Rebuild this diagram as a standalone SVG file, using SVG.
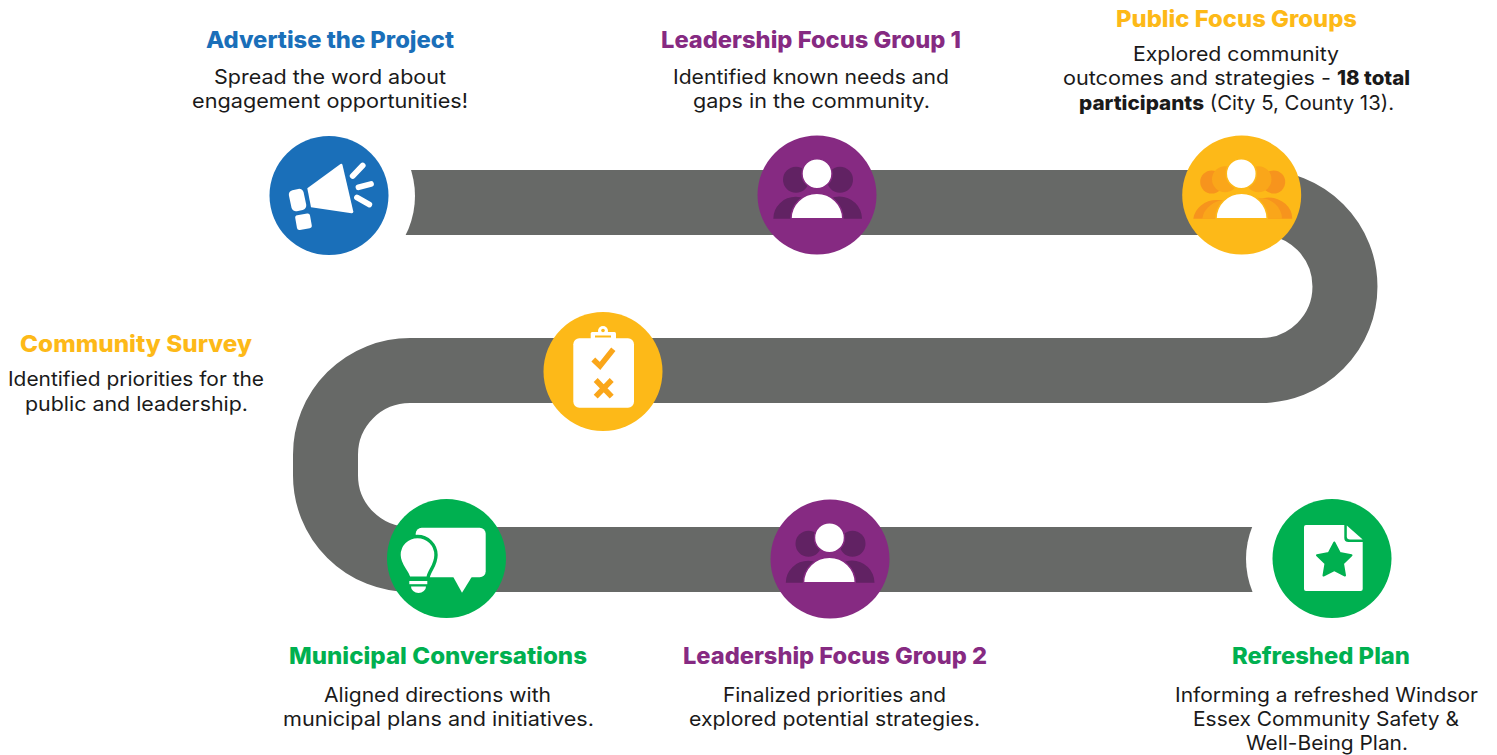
<svg xmlns="http://www.w3.org/2000/svg" xmlns:xlink="http://www.w3.org/1999/xlink" width="1497" height="755" viewBox="0 0 1497 755">
<style>
text{font-family:"Inter","Liberation Sans",sans-serif;fill:#1a1a1a}
.h{font-size:23px;font-weight:800}
.b{font-size:20px;font-weight:400}
.bb{font-weight:800}
.blue{fill:#1a6fb9}.pur{fill:#862a82}.yel{fill:#fdb918}.grn{fill:#00b050}
.w{fill:#fff}
.road{fill:none;stroke:#676967;stroke-width:65}
</style>
<defs>
<g id="people">
<circle cx="796" cy="179.7" r="13" fill="#612263"/><circle cx="840" cy="179.7" r="13" fill="#612263"/>
<path d="M773.3 218.7A22.5 22 0 0 1 818.3 218.7ZM816.7 218.7A22.5 22 0 0 1 862 218.7Z" fill="#612263"/>
<circle cx="817" cy="173.7" r="15" class="w" stroke="#862a82" stroke-width="1.5"/>
<path d="M791 218.7A25.9 25.4 0 0 1 842.8 218.7Z" class="w" stroke="#862a82" stroke-width="1.5"/>
</g>
</defs>
<g id="connectors">
<path class="road" d="M400 202.5H1261A84 84 0 0 1 1261 370.5H410A84.5 84 0 0 0 325.5 454.5V475.5A84.5 84 0 0 0 410 559.5H1262"/>
</g>
<circle cx="329" cy="196" r="86" fill="#fff"/>
<circle cx="1332" cy="559" r="86" fill="#fff"/>
<g id="advertise">
<circle cx="329" cy="195.5" r="59.5" class="blue"/>
<path d="M307.3 188.3L340.5 164Q342 163 342.500 165L353.300 211.500Q353.500 213.500 351.500 213.300L311 207.300Z" class="w"/>
<rect x="290" y="189.300" width="15" height="21.500" rx="4.500" transform="rotate(-12 297.500 199.800)" class="w"/>
<rect x="296" y="214.200" width="15" height="15" rx="2.500" transform="rotate(-10 303.500 221.700)" class="w"/>
<path d="M352.700 176L362.700 165.500M358.500 187.200L371 184M357 197.500L369.300 204.500" stroke="#fff" stroke-width="5.800" stroke-linecap="round" fill="none"/>
<text class="h blue" x="206" y="48" textLength="248" lengthAdjust="spacingAndGlyphs">Advertise the Project</text>
<text class="b" x="214" y="84" textLength="232" lengthAdjust="spacingAndGlyphs">Spread the word about</text>
<text class="b" x="192" y="108" textLength="276" lengthAdjust="spacingAndGlyphs">engagement opportunities!</text>
</g>
<g id="leadership1">
<circle cx="817" cy="195" r="59.500" class="pur"/>
<use href="#people" xlink:href="#people"/>
<text class="h pur" x="661" y="48" textLength="300" lengthAdjust="spacingAndGlyphs">Leadership Focus Group 1</text>
<text class="b" x="673" y="84" textLength="276" lengthAdjust="spacingAndGlyphs">Identified known needs and</text>
<text class="b" x="693" y="108" textLength="237" lengthAdjust="spacingAndGlyphs">gaps in the community.</text>
</g>
<g id="public">
<circle cx="1241.700" cy="195" r="59.500" class="yel"/>
<circle cx="1211.700" cy="182" r="11.500" fill="#f7941d"/><circle cx="1273.700" cy="182" r="11.500" fill="#f7941d"/>
<path d="M1193.300 218.700A23.500 21 0 0 1 1240 218.700ZM1245 218.700A23.500 21 0 0 1 1292.300 218.700Z" fill="#f7941d"/>
<circle cx="1225" cy="179.300" r="13" fill="#faa61a"/><circle cx="1258.500" cy="179.300" r="13" fill="#faa61a"/>
<path d="M1202.300 218.700A24 21 0 0 1 1250 218.700ZM1234 218.700A24 21 0 0 1 1282 218.700Z" fill="#faa61a"/>
<circle cx="1241.300" cy="173.700" r="15" class="w" stroke="#fdb918" stroke-width="1.500"/>
<path d="M1216 218.700A25.600 25.400 0 0 1 1267.200 218.700Z" class="w" stroke="#fdb918" stroke-width="1.500"/>
<text class="h yel" x="1116" y="27" textLength="241" lengthAdjust="spacingAndGlyphs">Public Focus Groups</text>
<text class="b" x="1133" y="61" textLength="206" lengthAdjust="spacingAndGlyphs">Explored community</text>
<text class="b"><tspan x="1063" y="85" textLength="274" lengthAdjust="spacingAndGlyphs">outcomes and strategies - </tspan><tspan class="bb" x="1337" y="85" textLength="73" lengthAdjust="spacingAndGlyphs">18 total</tspan></text>
<text class="b"><tspan class="bb" x="1079" y="110" textLength="125" lengthAdjust="spacingAndGlyphs">participants</tspan><tspan x="1204" y="110" textLength="190" lengthAdjust="spacingAndGlyphs"> (City 5, County 13).</tspan></text>
</g>
<g id="survey">
<circle cx="603" cy="371.500" r="59.500" class="yel"/>
<rect x="573.300" y="338.300" width="60.700" height="69.400" rx="6" class="w"/>
<rect x="590.700" y="332" width="25.300" height="8" rx="1.500" class="w"/>
<circle cx="603" cy="331" r="5" class="w"/>
<rect x="595" y="335.500" width="16" height="2" fill="#fdb918"/>
<circle cx="603" cy="330.500" r="1.800" fill="#fdb918"/>
<path d="M593.300 359.500L600 366L613.300 349.300M595.700 380L611.700 396.700M611.700 380L595.700 396.700" fill="none" stroke="#faa61a" stroke-width="5.500"/>
<text class="h yel" x="20" y="352" textLength="232" lengthAdjust="spacingAndGlyphs">Community Survey</text>
<text class="b" x="8" y="386" textLength="256" lengthAdjust="spacingAndGlyphs">Identified priorities for the</text>
<text class="b" x="25" y="411" textLength="223" lengthAdjust="spacingAndGlyphs">public and leadership.</text>
</g>
<g id="municipal">
<circle cx="446.500" cy="558.500" r="59.500" class="grn"/>
<rect x="415.700" y="527.700" width="70" height="49.600" rx="6" class="w"/>
<path d="M453.300 577L471.700 577L462 592.700Z" class="w"/>
<path d="M408.800 578.300C407.500 571 399 566 399 555A18.500 18.500 0 0 1 436 555C436 566 428.500 571 428 578.300Z" class="w" stroke="#00b050" stroke-width="3.400"/>
<rect x="409.300" y="581" width="18" height="3.200" class="w"/>
<path d="M411 586.500H426A7.500 6.500 0 0 1 411 586.500Z" class="w"/>
<text class="h grn" x="289" y="664" textLength="298" lengthAdjust="spacingAndGlyphs">Municipal Conversations</text>
<text class="b" x="324" y="702" textLength="227" lengthAdjust="spacingAndGlyphs">Aligned directions with</text>
<text class="b" x="283" y="726" textLength="311" lengthAdjust="spacingAndGlyphs">municipal plans and initiatives.</text>
</g>
<g id="leadership2">
<circle cx="830" cy="559" r="59.500" class="pur"/>
<use href="#people" xlink:href="#people" transform="translate(12.500 364)"/>
<text class="h pur" x="683" y="664" textLength="304" lengthAdjust="spacingAndGlyphs">Leadership Focus Group 2</text>
<text class="b" x="723" y="702" textLength="223" lengthAdjust="spacingAndGlyphs">Finalized priorities and</text>
<text class="b" x="689" y="726" textLength="291" lengthAdjust="spacingAndGlyphs">explored potential strategies.</text>
</g>
<g id="refreshed">
<circle cx="1332" cy="558.500" r="59.500" class="grn"/>
<path d="M1306 525H1344.300V538Q1344.300 542 1348.500 542H1362.700V589Q1362.700 591 1360.700 591H1306Q1304 591 1304 589V527Q1304 525 1306 525Z" class="w"/>
<path d="M1346.800 525.500L1362.700 539.500H1350Q1346.800 539.500 1346.800 536.500Z" class="w"/>
<path d="M1334.300 542.500L1339.800 553L1351.500 555.300L1343 563.500L1345 575.500L1334.300 570L1323.500 575.500L1325.500 563.500L1317 555.300L1328.800 553Z" class="grn" stroke="#00b050" stroke-width="2" stroke-linejoin="round"/>
<text class="h grn" x="1232" y="664" textLength="178" lengthAdjust="spacingAndGlyphs">Refreshed Plan</text>
<text class="b" x="1175" y="702" textLength="303" lengthAdjust="spacingAndGlyphs">Informing a refreshed Windsor</text>
<text class="b" x="1193" y="726" textLength="266" lengthAdjust="spacingAndGlyphs">Essex Community Safety &amp;</text>
<text class="b" x="1246" y="750" textLength="162" lengthAdjust="spacingAndGlyphs">Well-Being Plan.</text>
</g>
</svg>
